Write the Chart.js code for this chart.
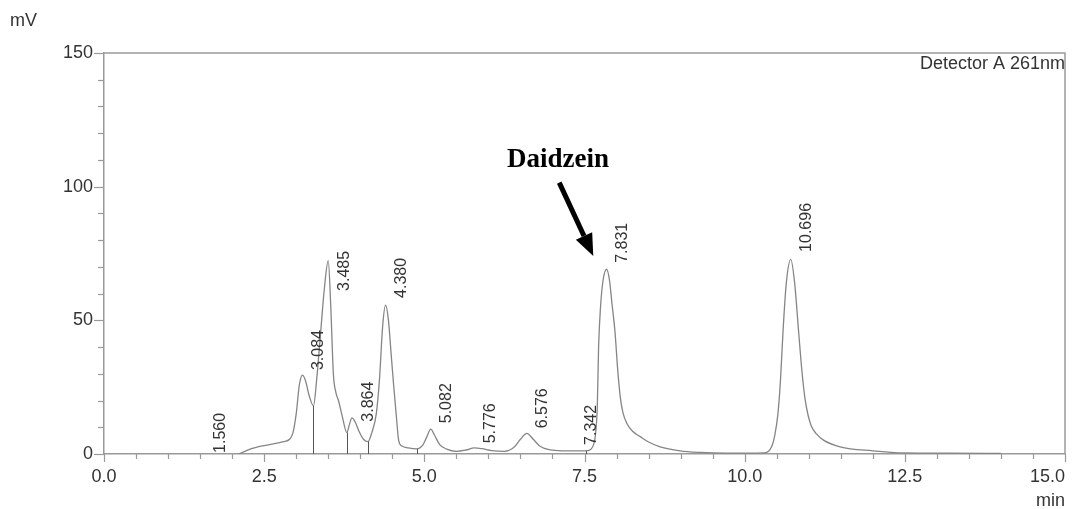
<!DOCTYPE html>
<html><head><meta charset="utf-8">
<script src="https://cdn.jsdelivr.net/npm/chart.js@4"></script>
<style>html,body{margin:0;padding:0;background:#fff}#wrap{width:1073px;height:509px;position:relative}</style>
</head><body><div id="wrap"><canvas id="c" width="1073" height="509"></canvas></div>
<script>
// ---- data (time in min, signal in mV) ----
const times = [2.10,2.20,2.30,2.40,2.60,2.80,2.90,2.95,3.00,3.05,3.10,3.15,3.20,3.27,3.32,3.38,3.44,3.50,3.54,3.58,3.62,3.66,3.72,3.79,3.83,3.87,3.92,3.98,4.05,4.12,4.18,4.25,4.30,4.35,4.395,4.44,4.48,4.52,4.56,4.60,4.65,4.75,4.88,4.98,5.04,5.10,5.16,5.24,5.35,5.50,5.65,5.78,5.90,6.05,6.25,6.40,6.50,6.60,6.70,6.80,6.95,7.15,7.35,7.53,7.60,7.64,7.67,7.70,7.72,7.75,7.79,7.845,7.89,7.93,7.975,8.02,8.06,8.10,8.16,8.25,8.37,8.50,8.68,8.99,9.30,9.70,10.05,10.31,10.42,10.47,10.52,10.56,10.60,10.65,10.72,10.78,10.84,10.89,10.94,10.99,11.04,11.12,11.23,11.49,12.00,12.50,13.20,14.00];
const signal = [0,1.0,2.0,2.7,3.6,4.6,5.6,8,15,26,29.5,27,22,18,28,45,62,72.3,55,30,23,20,14,8,11,13.5,12,8.5,5.5,4.6,8,15,28,48,55.7,50,38,26,15,5,3,2.3,1.9,3.5,6.5,9.3,7,3.5,1.8,1.0,1.5,2.3,2.0,1.3,1.0,2.5,5.5,7.7,5.5,3.0,1.6,1.2,1.2,1.2,1.8,3.4,7,18,40,55,65,69.1,65,56,46,31,21,15.5,11.5,8.5,6.5,4.5,2.7,1.2,0.6,0.3,0.3,0.4,2.7,7,15.2,28,46.4,64,72.8,64,46.4,32,21,14.5,10.5,7.5,5.2,2.7,1.2,0.4,0.3,0.2];
const peakTimes  = [1.560,3.084,3.485,3.864,4.380,5.082,5.776,6.576,7.342,7.831,10.696];
const peakLabels = ['1.560','3.084','3.485','3.864','4.380','5.082','5.776','6.576','7.342','7.831','10.696'];
const peakLabelBase = [0.4,31.4,61,12.1,58.4,11.5,4,9.6,3.4,71.5,75.6];
const dropTimes   = [3.27,3.79,4.12,4.88,7.53];
const dropHeights = [18,8,4.6,1.9,1.2];
const xTickValues = [0,2.5,5,7.5,10,12.5,15];
const xTickLabels = ['0.0','2.5','5.0','7.5','10.0','12.5','15.0'];
const annotation = {text:'Daidzein', x:7.086, y:107.5, arrowFrom:[7.106,101.5], arrowTo:[7.637,74.1]};

const pts = times.map((t,i)=>({x:t,y:signal[i]}));
const AX = '#9a9a9a', TXT = '#333';

const deco = {
  id:'deco',
  afterDraw(chart){
    const ctx = chart.ctx, a = chart.chartArea, xs = chart.scales.x, ys = chart.scales.y;
    ctx.save();
    // frame top + right
    ctx.strokeStyle = AX; ctx.lineWidth = 1.5;
    ctx.beginPath(); ctx.moveTo(a.left, a.top); ctx.lineTo(a.right, a.top); ctx.lineTo(a.right, a.bottom); ctx.stroke();
    // ticks
    ctx.lineWidth = 1.2;
    for (let v=0; v<=15.0001; v+=0.5){
      const px = Math.round(xs.getPixelForValue(v))+0.5;
      const major = Math.abs(v/2.5 - Math.round(v/2.5))<1e-6;
      ctx.beginPath(); ctx.moveTo(px, a.bottom); ctx.lineTo(px, a.bottom + (major?8:5)); ctx.stroke();
    }
    for (let v=0; v<=150; v+=10){
      const py = Math.round(ys.getPixelForValue(v))+0.5;
      const major = v%50===0;
      ctx.beginPath(); ctx.moveTo(a.left - (major?10:6), py); ctx.lineTo(a.left, py); ctx.stroke();
    }
    // x tick labels
    ctx.fillStyle = TXT; ctx.font = '18px "Liberation Sans", Arial, sans-serif';
    ctx.textBaseline = 'alphabetic';
    xTickValues.forEach((v,i)=>{
      const px = xs.getPixelForValue(v);
      const w = ctx.measureText(xTickLabels[i]).width;
      let left = px - w/2;
      if (left + w > a.right) left = a.right - w;
      ctx.textAlign='left'; ctx.fillText(xTickLabels[i], left, 482);
    });
    // unit labels
    ctx.textAlign='left'; ctx.fillText('mV', 10, 26);
    ctx.textAlign='right'; ctx.fillText('min', a.right, 506);
    ctx.fillText('Detector A 261nm', a.right, 69);
    // drop lines
    ctx.strokeStyle = '#555'; ctx.lineWidth = 1;
    dropTimes.forEach((t,i)=>{
      const px = Math.round(xs.getPixelForValue(t))+0.5;
      ctx.beginPath(); ctx.moveTo(px, a.bottom); ctx.lineTo(px, ys.getPixelForValue(dropHeights[i])); ctx.stroke();
    });
    // peak labels
    ctx.fillStyle = TXT; ctx.font = '16px "Liberation Sans", Arial, sans-serif';
    peakTimes.forEach((t,i)=>{
      ctx.save();
      ctx.translate(xs.getPixelForValue(t)+17, ys.getPixelForValue(peakLabelBase[i]));
      ctx.rotate(-Math.PI/2);
      ctx.textAlign='left'; ctx.textBaseline='middle';
      ctx.fillText(peakLabels[i], 0, 0);
      ctx.restore();
    });
    // annotation
    ctx.fillStyle = '#000';
    ctx.font = 'bold 27px "Liberation Serif", "Times New Roman", serif';
    ctx.textAlign='center'; ctx.textBaseline='alphabetic';
    ctx.fillText(annotation.text, xs.getPixelForValue(annotation.x), ys.getPixelForValue(annotation.y));
    const x1 = xs.getPixelForValue(annotation.arrowFrom[0]), y1 = ys.getPixelForValue(annotation.arrowFrom[1]);
    const x2 = xs.getPixelForValue(annotation.arrowTo[0]), y2 = ys.getPixelForValue(annotation.arrowTo[1]);
    const ang = Math.atan2(y2-y1, x2-x1), hl = 22, hw = 9;
    const bx = x2 - hl*Math.cos(ang), by = y2 - hl*Math.sin(ang);
    ctx.strokeStyle='#000'; ctx.lineWidth = 5; ctx.lineCap='butt';
    ctx.beginPath(); ctx.moveTo(x1,y1); ctx.lineTo(bx,by); ctx.stroke();
    ctx.beginPath(); ctx.moveTo(x2,y2);
    ctx.lineTo(bx + hw*Math.sin(ang), by - hw*Math.cos(ang));
    ctx.lineTo(bx - hw*Math.sin(ang), by + hw*Math.cos(ang));
    ctx.closePath(); ctx.fill();
    ctx.restore();
  }
};

new Chart(document.getElementById('c'), {
  type:'line',
  data:{datasets:[{data:pts, borderColor:'#858585', borderWidth:1.3, pointRadius:0, fill:false, cubicInterpolationMode:'monotone'}]},
  options:{
    responsive:false, animation:false, devicePixelRatio:1,
    layout:{padding:{top:53, right:8, left:0, bottom:0}},
    plugins:{legend:{display:false}, tooltip:{enabled:false}},
    scales:{
      x:{type:'linear', min:0, max:15,
         grid:{display:false, drawTicks:false},
         border:{display:true, color:AX, width:1.5},
         ticks:{display:false},
         afterFit(s){ s.height = 55; }},
      y:{min:0, max:150,
         grid:{display:false, drawTicks:false},
         border:{display:true, color:AX, width:1.5},
         ticks:{stepSize:50, padding:11, color:TXT, font:{size:18, family:'"Liberation Sans", Arial, sans-serif'}},
         afterFit(s){ s.width = 104; }}
    }
  },
  plugins:[deco]
});
</script></body></html>
